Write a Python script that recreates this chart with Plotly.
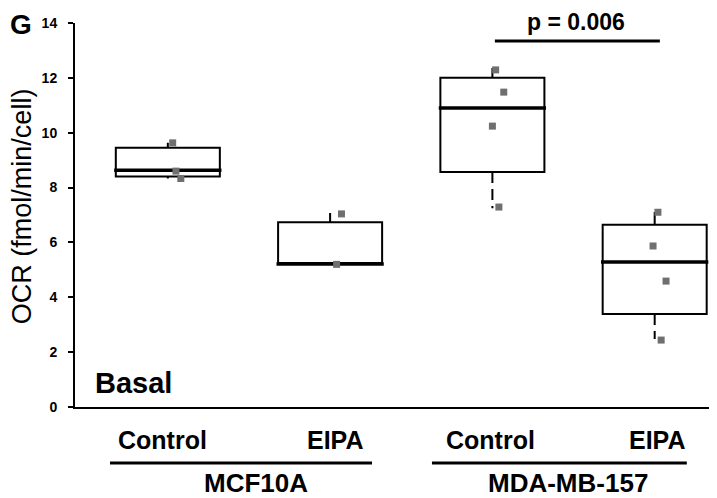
import plotly.graph_objects as go

# ---- data ----
conditions = ["Control", "EIPA", "Control", "EIPA"]
groups = ["MCF10A", "MDA-MB-157"]
positions = [0, 1, 2, 3]
q1 = [8.40, 5.21, 8.57, 3.39]
median = [8.63, 5.21, 10.90, 5.29]
q3 = [9.45, 6.74, 12.00, 6.64]
upper = [9.63, 7.07, 12.36, 7.11]
lower = [8.33, 5.21, 7.25, 2.48]
points = [
    [9.63, 8.60, 8.33],
    [7.04, 5.20],
    [12.29, 11.48, 10.24, 7.29],
    [7.10, 5.87, 4.59, 2.44],
]
jitter = [
    [0.03, 0.05, 0.08],
    [0.07, 0.04],
    [0.02, 0.07, 0.0, 0.04],
    [0.02, -0.01, 0.07, 0.04],
]
y_ticks = [0, 2, 4, 6, 8, 10, 12, 14]
p_text = "p = 0.006"
p_level = 13.34

FONT = "Arial, 'Liberation Sans', sans-serif"
BOX_W = 0.641

fig = go.Figure()

for i, pos in enumerate(positions):
    fig.add_trace(go.Box(
        x=[pos], q1=[q1[i]], median=[median[i]], q3=[q3[i]],
        lowerfence=[q1[i]], upperfence=[upper[i]],
        width=BOX_W, whiskerwidth=0,
        fillcolor="white", line=dict(color="black", width=2),
        boxpoints=False, showlegend=False, hoverinfo="skip",
    ))
    # thicker median line
    fig.add_trace(go.Scatter(
        x=[pos - BOX_W / 2 - 0.01, pos + BOX_W / 2 + 0.01], y=[median[i], median[i]],
        mode="lines", line=dict(color="black", width=3.5), showlegend=False, hoverinfo="skip",
    ))
    # dashed lower whisker
    if lower[i] < q1[i]:
        fig.add_trace(go.Scatter(
            x=[pos, pos], y=[q1[i], lower[i]], mode="lines",
            line=dict(color="black", width=2, dash="11px,6px"),
            showlegend=False, hoverinfo="skip",
        ))
    # data points
    fig.add_trace(go.Scatter(
        x=[pos + j for j in jitter[i]], y=points[i], mode="markers",
        marker=dict(symbol="square", size=7, color="#6f6f6f"),
        showlegend=False, hoverinfo="skip",
    ))

ann = []
label_shift = [-5, 5, -2, 3]
for i, pos in enumerate(positions):
    ann.append(dict(x=pos, y=-0.0859, xref="x", yref="paper", text=conditions[i],
                    showarrow=False, xshift=label_shift[i], xanchor="center", yanchor="middle",
                    font=dict(family=FONT, size=25, color="black", weight="bold")))
ann.append(dict(x=0.282, y=-0.199, xref="paper", yref="paper", text=groups[0], showarrow=False,
                xanchor="center", yanchor="middle",
                font=dict(family=FONT, size=26, color="black", weight="bold")))
ann.append(dict(x=0.768, y=-0.199, xref="paper", yref="paper", text=groups[1], showarrow=False,
                xanchor="center", yanchor="middle",
                font=dict(family=FONT, size=26, color="black", weight="bold")))
ann.append(dict(x=-0.0826, y=0.523, xref="paper", yref="paper", text="OCR (fmol/min/cell)",
                textangle=-90, showarrow=False, xanchor="center", yanchor="middle",
                font=dict(family=FONT, size=27, color="black")))
ann.append(dict(x=0.091, y=0.0625, xref="paper", yref="paper", text="Basal", showarrow=False,
                xanchor="center", yanchor="middle",
                font=dict(family=FONT, size=29, color="black", weight="bold")))
ann.append(dict(x=-0.0841, y=0.997, xref="paper", yref="paper", text="G", showarrow=False,
                xanchor="center", yanchor="middle",
                font=dict(family=FONT, size=28, color="black", weight="bold")))
ann.append(dict(x=0.78, y=1.0026, xref="paper", yref="paper", text=p_text, showarrow=False,
                xanchor="center", yanchor="middle",
                font=dict(family=FONT, size=23, color="black", weight="bold")))

shapes = [
    dict(type="line", xref="paper", yref="paper", x0=0.0545, x1=0.4626, y0=-0.1458, y1=-0.1458,
         line=dict(color="black", width=3)),
    dict(type="line", xref="paper", yref="paper", x0=0.556, x1=0.953, y0=-0.1458, y1=-0.1458,
         line=dict(color="black", width=3)),
    dict(type="line", xref="paper", yref="y", x0=0.654, x1=0.911, y0=p_level, y1=p_level,
         line=dict(color="black", width=3)),
]

# page body has an 8px margin, so the figure is sized/offset to land on the reference frame
fig.update_layout(
    width=709, height=490,
    margin=dict(l=67, r=0, t=15, b=91),
    paper_bgcolor="white", plot_bgcolor="white",
    showlegend=False,
    annotations=ann, shapes=shapes,
    xaxis=dict(range=[-0.572, 3.384], showticklabels=False, ticks="", showgrid=False,
               zeroline=False, showline=True, linecolor="black", linewidth=2),
    yaxis=dict(range=[0, 14], tickvals=y_ticks, ticks="outside", ticklen=5, tickwidth=2,
               tickcolor="black", showgrid=False, zeroline=False, showline=True,
               linecolor="black", linewidth=2, ticklabelstandoff=8,
               tickfont=dict(family=FONT, size=14, color="black", weight="bold")),
)

fig.write_html("out.html")
